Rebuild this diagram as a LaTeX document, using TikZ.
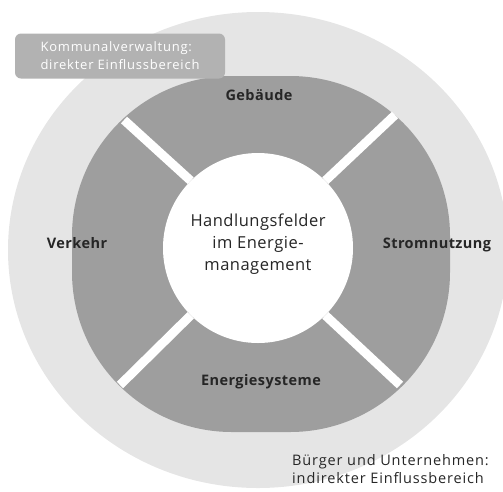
\documentclass[tikz,border=0pt]{standalone}
\usepackage{fontspec}
\setmainfont{Open Sans}
\newfontfamily\widefont[LetterSpace=6]{Open Sans}
\newfontfamily\labfont[LetterSpace=3]{Open Sans}
\begin{document}
\begin{tikzpicture}[x=1pt,y=-1pt,
  field/.style={font=\labfont\bfseries\fontsize{14.5}{16}\selectfont, text=black!85},
  sep/.style={draw=white, line width=9pt},
  area/.style={font=\widefont\fontsize{14.5}{18}\selectfont, align=left, text=black!85}]
\useasboundingbox (0,0) rectangle (503,491);
\begin{scope}
\clip (0,0) rectangle (503,491);
% outer halo
\fill[black!10] (258,250) ellipse [x radius=250, y radius=238];
% ring
\fill[black!38, rounded corners=160pt] (72,76) rectangle (450,432);
\end{scope}
% centre circle
\node[circle, fill=white, minimum size=190pt, inner sep=0pt] (c) at (258,248) {};
\coordinate (ul) at (124,120);
\coordinate (ur) at (395,115);
\coordinate (lr) at (400,385);
\coordinate (ll) at (120,385);
\draw[sep] (c.135) -- (ul);
\draw[sep] (c.45) -- (ur);
\draw[sep] (c.-45) -- (lr);
\draw[sep] (c.-135) -- (ll);
\node[align=center, font=\labfont\fontsize{16.5}{22}\selectfont, text=black!85] (t) at (258,244)
  {Handlungsfelder\\im Energie-\\management};
\node[field] (g) at (259,95) {Gebäude};
\node[field] (v) at (77,243) {Verkehr};
\node[field] (s) at (437,245) {Stromnutzung};
\node[field] (e) at (261,382) {Energiesysteme};
% top-left box
\node[draw=none, fill=black!30, rounded corners=6pt, minimum width=210pt, minimum height=45pt,
      align=left, text=white, font=\widefont\fontsize{13}{18}\selectfont] (k) at (120,56)
  {Kommunalverwaltung:\\direkter Einflussbereich};
\node[area, anchor=west, inner sep=0pt] (b) at (292,469) {Bürger und Unternehmen:\\indirekter Einflussbereich};
\end{tikzpicture}
\end{document}
